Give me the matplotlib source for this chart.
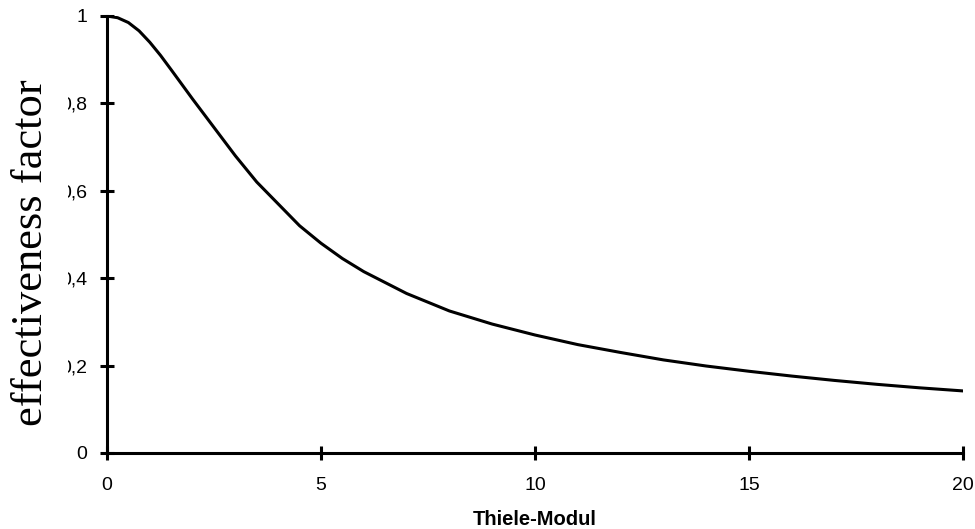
import matplotlib.pyplot as plt
from matplotlib.patches import Rectangle

# Thiele modulus vs effectiveness factor
thiele = [0, 0.25, 0.5, 0.75, 1, 1.25, 1.5, 2, 2.5, 3, 3.5, 4, 4.5, 5, 5.5,
          6, 6.5, 7, 7.5, 8, 9, 10, 11, 12, 13, 14, 15, 16, 17, 18, 19, 20]
eta = [1.0, 0.996, 0.985, 0.966, 0.94, 0.91, 0.877, 0.81, 0.745, 0.68,
       0.62, 0.57, 0.52, 0.48, 0.445, 0.415, 0.39, 0.365, 0.345, 0.325,
       0.295, 0.27, 0.248, 0.23, 0.213, 0.199, 0.187, 0.176, 0.166, 0.157,
       0.149, 0.142]

x_ticks = [0, 5, 10, 15, 20]
y_ticks = [0, 0.2, 0.4, 0.6, 0.8, 1]
y_labels = ['0', '0,2', '0,4', '0,6', '0,8', '1']

plt.rcParams['font.family'] = ['Liberation Sans', 'DejaVu Sans']

fig = plt.figure(figsize=(9.75, 5.29), dpi=100)
ax = fig.add_axes([0.1097, 0.1437, 0.878, 0.8261])

ax.plot(thiele, eta, color='black', linewidth=2.2)

ax.set_xlim(0, 20)
ax.set_ylim(0, 1)
ax.set_xticks(x_ticks)
ax.set_xticklabels([str(t) for t in x_ticks])
ax.set_yticks(y_ticks)
ax.set_yticklabels(y_labels)

for side in ['top', 'right']:
    ax.spines[side].set_visible(False)
for side in ['left', 'bottom']:
    ax.spines[side].set_linewidth(2.2)

ax.tick_params(direction='inout', length=10, width=2.2, labelsize=14)
ax.tick_params(axis='x', pad=12)
ax.tick_params(axis='y', pad=9)

ax.set_xlabel('Thiele-Modul', fontsize=14.5, fontweight='bold', labelpad=11.5)
fig.text(0.032, 0.5227, 'effectiveness factor', rotation=90, fontsize=32,
         family='Liberation Serif', ha='center', va='center')

# the old chart crops the left side of the y tick labels
fig.add_artist(Rectangle((46, 0), 21.5, 529, transform=None,
                         facecolor='white', edgecolor='none', zorder=10))

fig.savefig('out.png', dpi=100)
